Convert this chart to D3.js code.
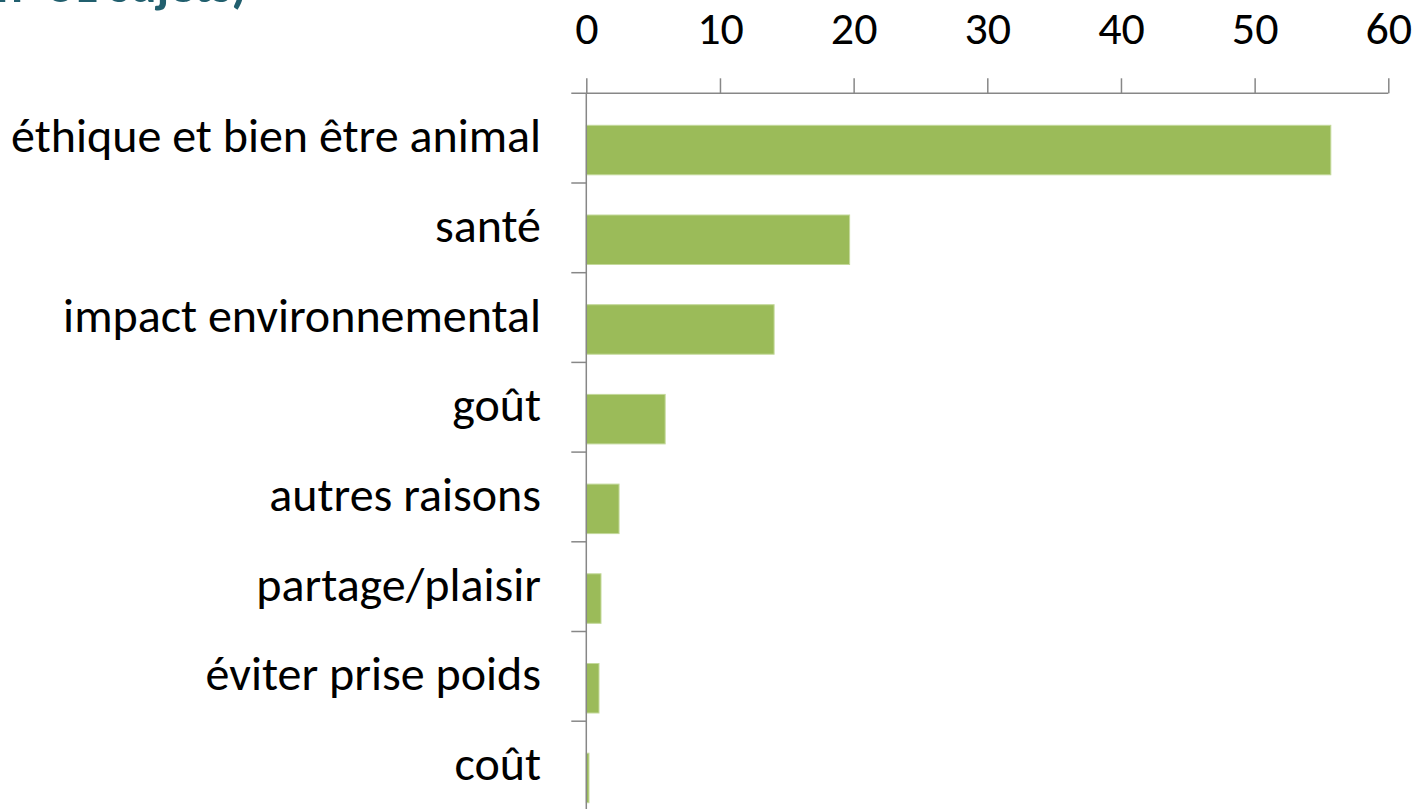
<!DOCTYPE html>
<html>
<head>
<meta charset="utf-8">
<script src="https://cdn.jsdelivr.net/npm/d3@7"></script>
<style>
    body { margin: 0; background: #fff; }
    svg { display: block; }
</style>
</head>
<body>
<script>
"use strict";

// categories, top to bottom
const categories = ["éthique et bien être animal", "santé", "impact environnemental",
    "goût", "autres raisons", "partage/plaisir", "éviter prise poids", "coût"];
// values
const values = [55.7, 19.7, 14.05, 5.9, 2.45, 1.1, 0.95, 0.2];
const xTicks = [0, 10, 20, 30, 40, 50, 60];
const titleTail = "n=81 sujets)";

const measurements = { width: 1420, height: 809 };
const fontStack = "Carlito, 'Open Sans', 'Noto Sans', sans-serif";

const svg = d3.select("body").append("svg")
    .attr("width", measurements.width)
    .attr("height", measurements.height);

// x scale: 0 at 586, 60 at 1388
const scaleX = d3.scaleLinear().domain([0, 60]).range([586.3, 1388.3]);
// one band per category, 89.7 px each starting at axis line
const axisY = 93.3;
const scaleY = d3.scaleBand().domain(categories)
    .range([axisY, axisY + 89.7 * categories.length]);

// title remnant, cut off at top like the source
svg.append("text")
    .attr("x", -4)
    .attr("y", 2)
    .attr("font-family", fontStack)
    .attr("font-size", 50)
    .attr("font-weight", 600)
    .attr("fill", "#215f6e")
    .text(titleTail);

// bars
svg.selectAll(".bar")
    .data(values)
    .enter()
    .append("rect")
    .attr("class", "bar")
    .attr("x", scaleX(0))
    .attr("y", (d, i) => scaleY(categories[i]) + 32)
    .attr("width", (d) => scaleX(d) - scaleX(0))
    .attr("height", 49.5)
    .attr("fill", "#9bbb59")
    .attr("stroke", "#c4d99b")
    .attr("stroke-width", 1);

// x axis on top
const xAxis = d3.axisTop(scaleX).tickValues(xTicks).tickSize(15).tickPadding(34).tickSizeOuter(0);
const gx = svg.append("g")
    .attr("transform", `translate(0,${axisY})`)
    .call(xAxis);
gx.select(".domain").attr("stroke", "#878787").attr("stroke-width", 1.5)
    .attr("d", `M${scaleX(0) - 15},0H${scaleX(60)}`);
gx.selectAll(".tick line").attr("stroke", "#878787").attr("stroke-width", 1.5);
gx.selectAll(".tick text")
    .attr("font-family", fontStack)
    .attr("font-size", 46)
    .attr("fill", "#000");

// y axis: ticks at band boundaries
const boundaries = categories.map((c) => scaleY(c)).concat([scaleY.range()[1]]);
const gy = svg.append("g");
gy.append("line")
    .attr("x1", scaleX(0)).attr("x2", scaleX(0))
    .attr("y1", axisY).attr("y2", measurements.height + 5)
    .attr("stroke", "#878787").attr("stroke-width", 1.5);
gy.selectAll(".ytick")
    .data(boundaries.slice(1))
    .enter()
    .append("line")
    .attr("x1", scaleX(0) - 15).attr("x2", scaleX(0))
    .attr("y1", (d) => d).attr("y2", (d) => d)
    .attr("stroke", "#878787").attr("stroke-width", 1.5);

// category labels
svg.selectAll(".label")
    .data(categories)
    .enter()
    .append("text")
    .attr("class", "label")
    .attr("x", 541)
    .attr("y", (d) => scaleY(d) + scaleY.bandwidth() / 2 + 14)
    .attr("text-anchor", "end")
    .attr("font-family", fontStack)
    .attr("font-size", 48)
    .attr("fill", "#000")
    .text((d) => d);
</script>
</body>
</html>
